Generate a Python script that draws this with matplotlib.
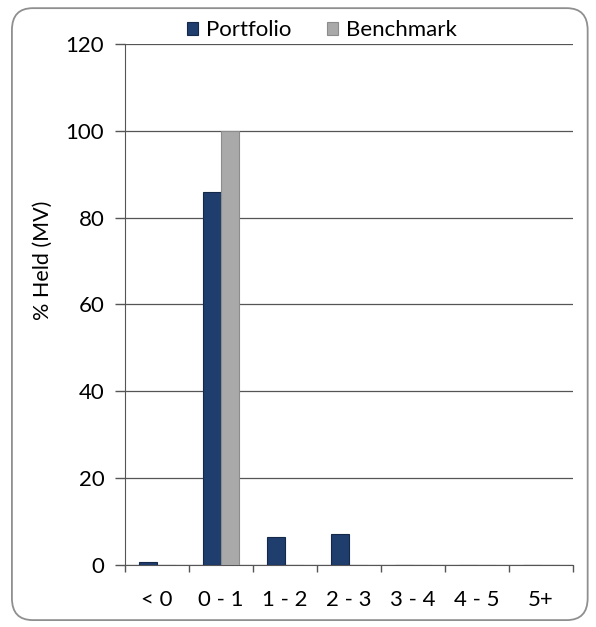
import matplotlib.pyplot as plt
import numpy as np
from matplotlib.patches import FancyBboxPatch

categories = ["< 0", "0 - 1", "1 - 2", "2 - 3", "3 - 4", "4 - 5", "5+"]
portfolio = [0.7, 86.0, 6.5, 7.1, 0.0, 0.0, 0.0]
benchmark = [0.0, 100.0, 0.0, 0.0, 0.0, 0.0, 0.0]

plt.rcParams["font.family"] = ["Lato", "DejaVu Sans"]

fig = plt.figure(figsize=(5.96, 6.27), dpi=100)
ax = fig.add_axes([0.21, 0.099, 0.751, 0.831])

# rounded frame round the whole chart
frame = FancyBboxPatch((0.02, 0.011), 0.966, 0.976, boxstyle="round,pad=0,rounding_size=0.035",
                       transform=fig.transFigure, facecolor="none", edgecolor="#8f8f8f", linewidth=1.3)
fig.patches.append(frame)

x = np.arange(len(categories))
w = 0.28
ax.bar(x - w / 2, portfolio, w, color="#1f3d6d", edgecolor="#14294a", linewidth=0.8, label="Portfolio", zorder=3)
ax.bar(x + w / 2, benchmark, w, color="#a9a9a9", edgecolor="#8c8c8c", linewidth=0.8, label="Benchmark", zorder=3)

fs = 16
ax.set_xlim(-0.5, len(categories) - 0.5)
ax.set_ylim(0, 120)
ax.set_yticks(range(0, 121, 20))
ax.set_xticks(x)
ax.set_xticklabels(categories)
ax.set_xticks(np.arange(-0.5, len(categories)), minor=True)
ax.tick_params(axis="x", which="major", length=0, pad=18, labelsize=fs)
ax.tick_params(axis="x", which="minor", length=5, width=1, color="#555555")
ax.tick_params(axis="y", length=7, width=1, color="#555555", labelsize=fs, pad=8)
ax.grid(axis="y", color="#555555", linewidth=0.9, zorder=0)
for s in ["top", "right"]:
    ax.spines[s].set_visible(False)
ax.spines["left"].set_color("#555555")
ax.spines["bottom"].set_color("#555555")
ax.set_ylabel("% Held (MV)", fontsize=15.5)
ax.yaxis.set_label_coords(-0.162, 0.585)

ax.legend(loc="upper center", bbox_to_anchor=(0.44, 1.062), ncol=2, frameon=False, fontsize=fs,
          handlelength=0.5, handleheight=0.5, handletextpad=0.35, columnspacing=1.6, borderaxespad=0)

fig.savefig("out.png", dpi=100)
